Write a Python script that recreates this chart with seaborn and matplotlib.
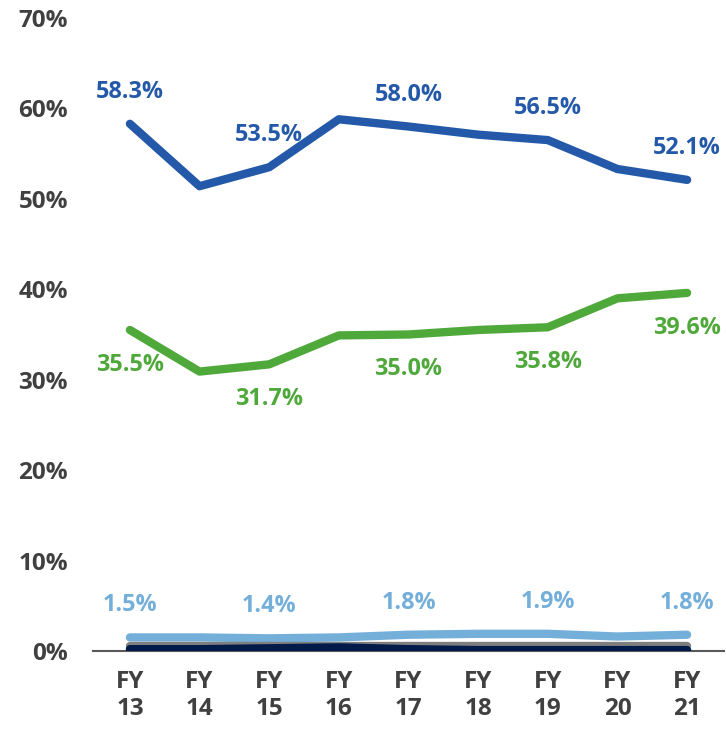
import pandas as pd
import numpy as np
import seaborn as sns
import matplotlib.pyplot as plt

years = ['FY\n13', 'FY\n14', 'FY\n15', 'FY\n16', 'FY\n17', 'FY\n18', 'FY\n19', 'FY\n20', 'FY\n21']
blue = [58.3, 51.4, 53.5, 58.8, 58.0, 57.1, 56.5, 53.3, 52.1]
green = [35.5, 30.9, 31.7, 34.9, 35.0, 35.5, 35.8, 39.0, 39.6]
light = [1.5, 1.5, 1.4, 1.5, 1.8, 1.9, 1.9, 1.6, 1.8]
gray = [0.5, 0.5, 0.5, 0.5, 0.5, 0.5, 0.5, 0.5, 0.5]
navy = [0.2, 0.2, 0.3, 0.4, 0.2, 0.1, 0.1, 0.1, 0.1]

series = {'blue': blue, 'green': green, 'light': light, 'gray': gray, 'navy': navy}
colors = {'blue': '#2459a9', 'green': '#4fa83a', 'light': '#74afda', 'gray': '#7f7f7f', 'navy': '#001a4a'}

rows = []
for name, vals in series.items():
    for i, v in enumerate(vals):
        rows.append({'x': i, 'value': v / 100, 'series': name})
df = pd.DataFrame(rows)

sns.set_style('white')
plt.rcParams['font.family'] = ['Open Sans', 'DejaVu Sans']
plt.rcParams['font.weight'] = 'bold'

fig = plt.figure(figsize=(7.26, 7.35), dpi=100)
ax = fig.add_axes([93 / 726, 84 / 735, 631 / 726, 633 / 735])

sns.lineplot(data=df, x='x', y='value', hue='series', palette=colors,
             hue_order=list(series.keys()), linewidth=6, solid_capstyle='round',
             legend=False, ax=ax)

# data labels on every other year
label_idx = [0, 2, 4, 6, 8]
for name, off in [('blue', 23), ('green', -25), ('light', 23)]:
    vals = series[name]
    for i in label_idx:
        ax.annotate(f'{vals[i]:.1f}%', (i, vals[i] / 100), xytext=(0, off),
                    textcoords='offset points', ha='center', va='center',
                    fontsize=16.8, fontweight='bold', color=colors[name])

ax.set_xlim(-0.53, 8.53)
ax.set_ylim(0, 0.70)
ax.set_yticks(np.arange(0, 0.71, 0.1))
ax.set_yticklabels([f'{int(round(t * 100))}%' for t in np.arange(0, 0.71, 0.1)])
ax.set_xticks(range(len(years)))
ax.set_xticklabels(years, linespacing=1.15)
ax.tick_params(axis='both', length=0, labelsize=17.5, labelcolor='#404040')
ax.tick_params(axis='y', pad=18)
ax.tick_params(axis='x', pad=14)
for lbl in ax.get_xticklabels() + ax.get_yticklabels():
    lbl.set_fontweight('bold')
ax.set_xlabel('')
ax.set_ylabel('')
sns.despine(ax=ax, left=True)
ax.spines['bottom'].set_color('#595959')
ax.spines['bottom'].set_linewidth(1.5)
ax.spines['bottom'].set_zorder(0)

fig.savefig('out.png', dpi=100)
